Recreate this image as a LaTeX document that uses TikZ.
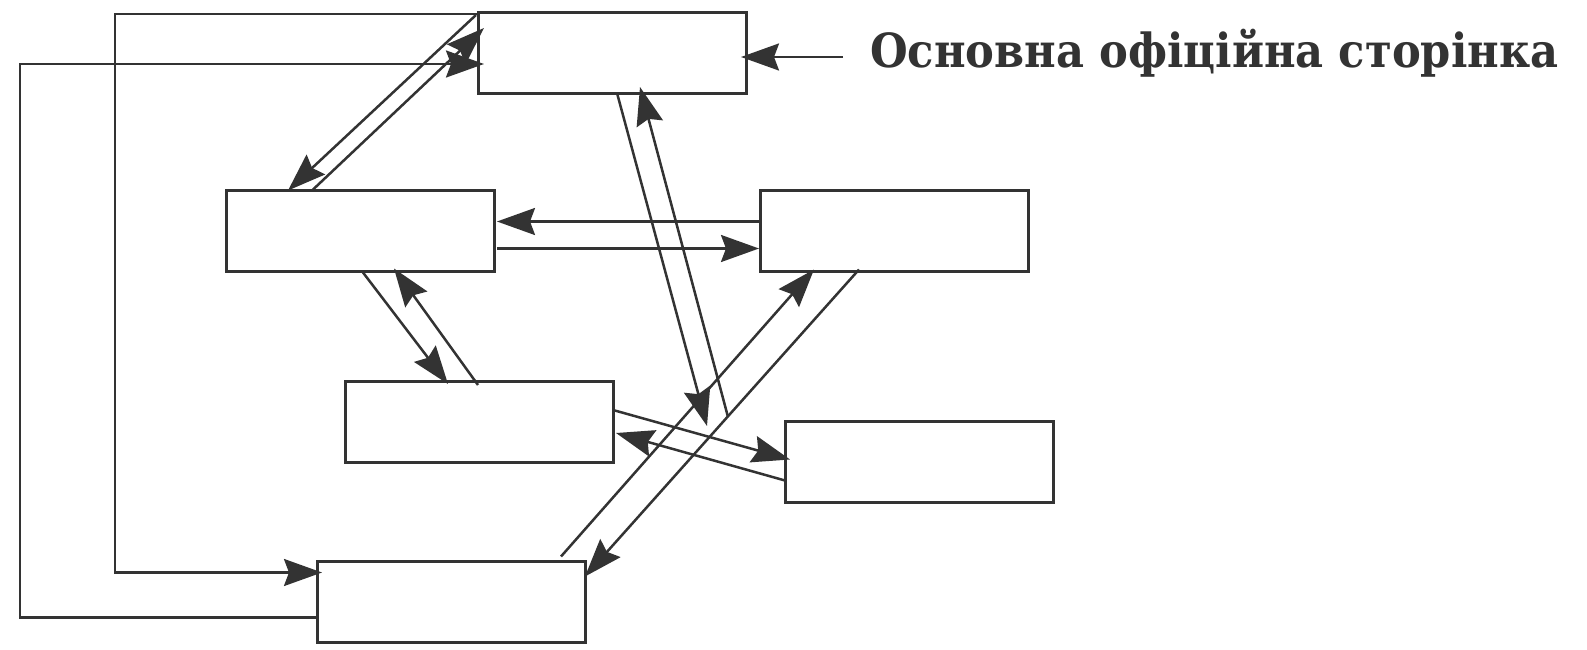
\documentclass[tikz,border=0pt]{standalone}
\usepackage{fontspec}
\newfontfamily\labfont{DejaVu Serif}
\usetikzlibrary{arrows.meta,calc}
\definecolor{ink}{RGB}{51,51,51}
\begin{document}
\begin{tikzpicture}[x=1pt,y=-1pt,
  box/.style={draw=ink,line width=3pt,minimum width=268pt,minimum height=81pt,inner sep=0pt,outer sep=0pt},
  conn/.style={draw=ink,line width=2.5pt},
  arr/.style={conn,-{Stealth[length=38pt,width=27pt,inset=5pt]}}]
\useasboundingbox (0,0) rectangle (1587,650);
% boxes
\node[box] (T)  at (612,53.5) {};
\node[box] (L)  at (360,231) {};
\node[box] (R)  at (894,231) {};
\node[box] (C)  at (479,421.5) {};
\node[box] (RL) at (919,462) {};
\node[box] (B)  at (451,602) {};
% label
\node[anchor=base west,inner sep=0pt,text=ink] (lab) at (870,68)
  {\labfont\bfseries\fontsize{47pt}{56pt}\selectfont\scalebox{0.92}[1]{Основна офіційна сторінка}};
\draw[arr] ($(lab.base west)+(-27,-11)$) -- ($(T.north west)+(263,44)$);
% free ends
\coordinate (m1) at (707,426);
\coordinate (m2) at (728,417);
% outer loops
\draw[arr] ($(B.north west)+(0,56)$) -- ++(-297,0) |- ($(T.north west)+(6,51)$);
\draw[arr] ($(T.north west)+(0,1)$) -- ++(-363,0) |- ($(B.north west)+(5,11)$);
% T - L
\draw[arr] ($(T.north west)+(-2,2)$) -- ($(L.north west)+(62,0)$);
\draw[arr] ($(L.north west)+(86,0)$) -- ($(T.north west)+(6,15)$);
% L - R
\draw[arr] ($(R.north west)+(0,31)$) -- ($(L.north west)+(271,31)$);
\draw[arr] ($(L.north west)+(271,58)$) -- ($(R.north west)+(-1,58)$);
% T - free ends
\draw[arr] ($(T.north west)+(139,80)$) -- (m1);
\draw[arr] (m2) -- ($(T.north west)+(162,74)$);
% L - C
\draw[arr] ($(L.north west)+(137,82)$) -- ($(C.north west)+(103,3)$);
\draw[arr] ($(C.north west)+(133,4)$) -- ($(L.north west)+(168,78)$);
% R - B
\draw[arr] ($(B.north west)+(244,-5)$) -- ($(R.north west)+(54,79)$);
\draw[arr] ($(R.north west)+(99,79)$) -- ($(B.north west)+(268,15)$);
% C - RL
\draw[arr] ($(C.north west)+(268,29)$) -- ($(RL.north west)+(5,38)$);
\draw[arr] ($(RL.north west)+(0,59)$) -- ($(C.north west)+(271,52)$);
\end{tikzpicture}
\end{document}
